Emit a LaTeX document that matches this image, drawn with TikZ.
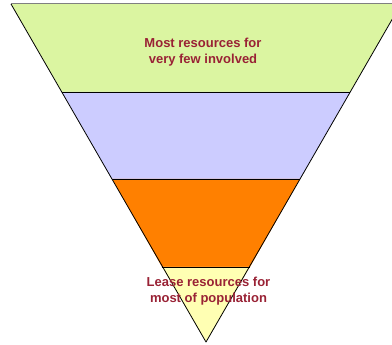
\documentclass[tikz,border=0pt]{standalone}
\usepackage{fontspec}
\setmainfont{Liberation Sans}
\usetikzlibrary{positioning,calc}
\definecolor{bandgreen}{HTML}{DBF5A1}
\definecolor{bandblue}{HTML}{CCCCFF}
\definecolor{bandorange}{HTML}{FF8000}
\definecolor{bandyellow}{HTML}{FFFFB3}
\definecolor{labelred}{HTML}{992235}
\begin{document}
\begin{tikzpicture}[
    x=1pt, y=-1pt,
    band/.style={ draw=black,
      line width=0.8pt,
      line join=round},
    label/.style={ text=labelred,
      font=\fontsize{13}{15.6}\selectfont\bfseries,
      align=center}]
    \useasboundingbox (0,0) rectangle (392,345);
    \clip (0,0) rectangle (392,345);
    % corners of the funnel, band by band
    \coordinate (A) at (206,342);
    \coordinate (TL) at (11,4);     \coordinate (TR) at (401,4);
    \coordinate (GL) at (62,92);    \coordinate (GR) at (350,92);
    \coordinate (BL) at (112,179);  \coordinate (BR) at (300,179);
    \coordinate (OL) at (162,267);  \coordinate (OR) at (250,267);

    \fill[bandgreen] (TL) -- (TR) -- (GR) -- (GL) -- cycle;
    \fill[bandblue] (GL) -- (GR) -- (BR) -- (BL) -- cycle;
    \fill[bandorange] (BL) -- (BR) -- (OR) -- (OL) -- cycle;
    \fill[bandyellow] (OL) -- (OR) -- (A) -- cycle;

    \draw[band] (TL) -- (A) -- (TR);
    \draw[band] (GL) -- (GR);
    \draw[band] (BL) -- (BR);
    \draw[band] (OL) -- (OR);
    \draw[gray, line width=1pt] (TL) -- (TR);

    \node[label] (top) at (203,52) {Most resources for\\very few involved};
    \node[label] (bottom) at (208.5,291) {Lease resources for\\most of population};
\end{tikzpicture}
\end{document}
